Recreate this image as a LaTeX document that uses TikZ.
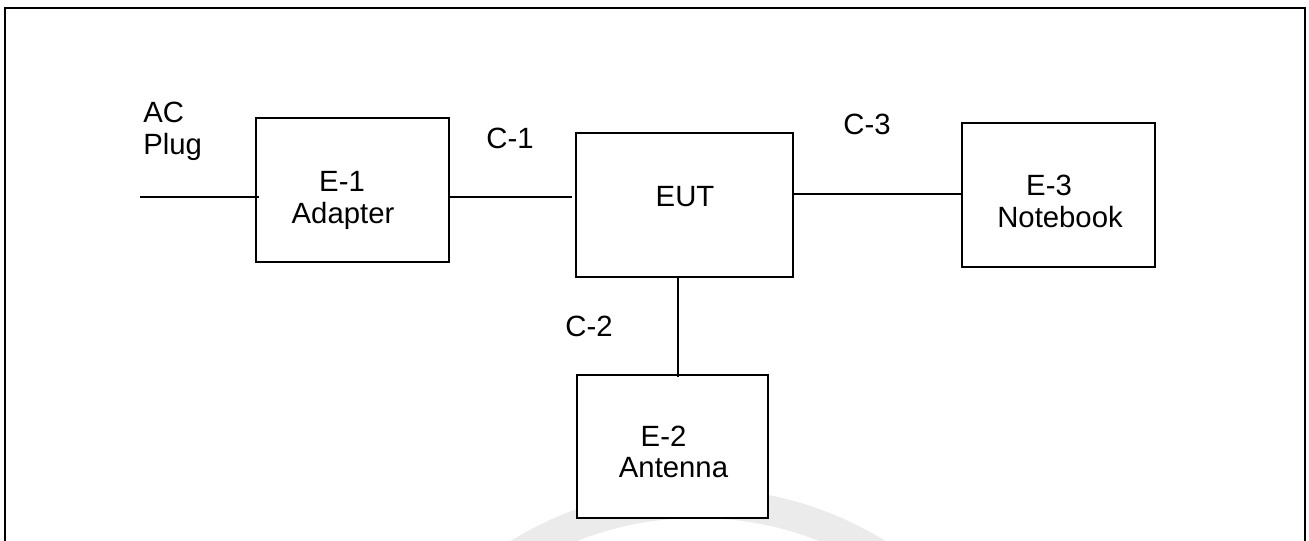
\documentclass[tikz,border=0pt]{standalone}
\usepackage{fontspec}
\setmainfont{Liberation Sans}
\begin{document}
\begin{tikzpicture}[x=0.5pt,y=-0.5pt,
  box/.style={draw=black,line width=1pt,fill=white,inner sep=0pt},
  wire/.style={draw=black,line width=1pt},
  lbl/.style={inner sep=0pt,anchor=base,font=\fontsize{14.65}{16}\selectfont},
  lblw/.style={inner sep=0pt,anchor=base west,font=\fontsize{14.65}{16}\selectfont}]
\useasboundingbox (0,0) rectangle (1309,540);
\begin{scope}
\clip (0,0) rectangle (1309,540);
% watermark arc
\draw[line width=15pt,color=black!8] (698,846) circle (343);
% outer frame
\draw[line width=1.2pt] (5,8) rectangle (1305,600);
\end{scope}
% boxes
\node[box,minimum width=96.5pt,minimum height=72pt] (e1) at (352.5,190) {};
\node[box,minimum width=108.5pt,minimum height=72pt] (eut) at (684.5,205) {};
\node[box,minimum width=96.5pt,minimum height=72pt] (e3) at (1058.5,195) {};
\node[box,minimum width=95.5pt,minimum height=71.5pt] (e2) at (672.5,446.5) {};
% helper coordinates
\coordinate (acend) at (140,197);
\coordinate (c1y) at (0,197);
\coordinate (c3y) at (0,194);
\coordinate (c2x) at (678,0);
% connectors
\draw[wire] (acend) -- ([xshift=2pt]e1.west |- acend);
\draw[wire] (e1.east |- c1y) -- ([xshift=-1.5pt]eut.west |- c1y);
\draw[wire] (eut.east |- c3y) -- (e3.west |- c3y);
\draw[wire] (c2x |- eut.south) -- ([yshift=-1.5pt]c2x |- e2.north);
% texts
\node[lblw] (ac) at (143,122) {AC};
\node[lblw] (plug) at (143,154) {Plug};
\node[lbl] (t1a) at (342,191) {E-1};
\node[lbl] (t1b) at (343,223) {Adapter};
\node[lbl] (c1) at (510,148) {C-1};
\node[lbl] (teut) at (685,206) {EUT};
\node[lbl] (c3) at (867,134) {C-3};
\node[lbl] (t3a) at (1049,195) {E-3};
\node[lbl] (t3b) at (1060,227) {Notebook};
\node[lbl] (c2) at (589,336) {C-2};
\node[lbl] (t2a) at (663.5,446) {E-2};
\node[lbl] (t2b) at (673.5,477) {Antenna};
\end{tikzpicture}
\end{document}
